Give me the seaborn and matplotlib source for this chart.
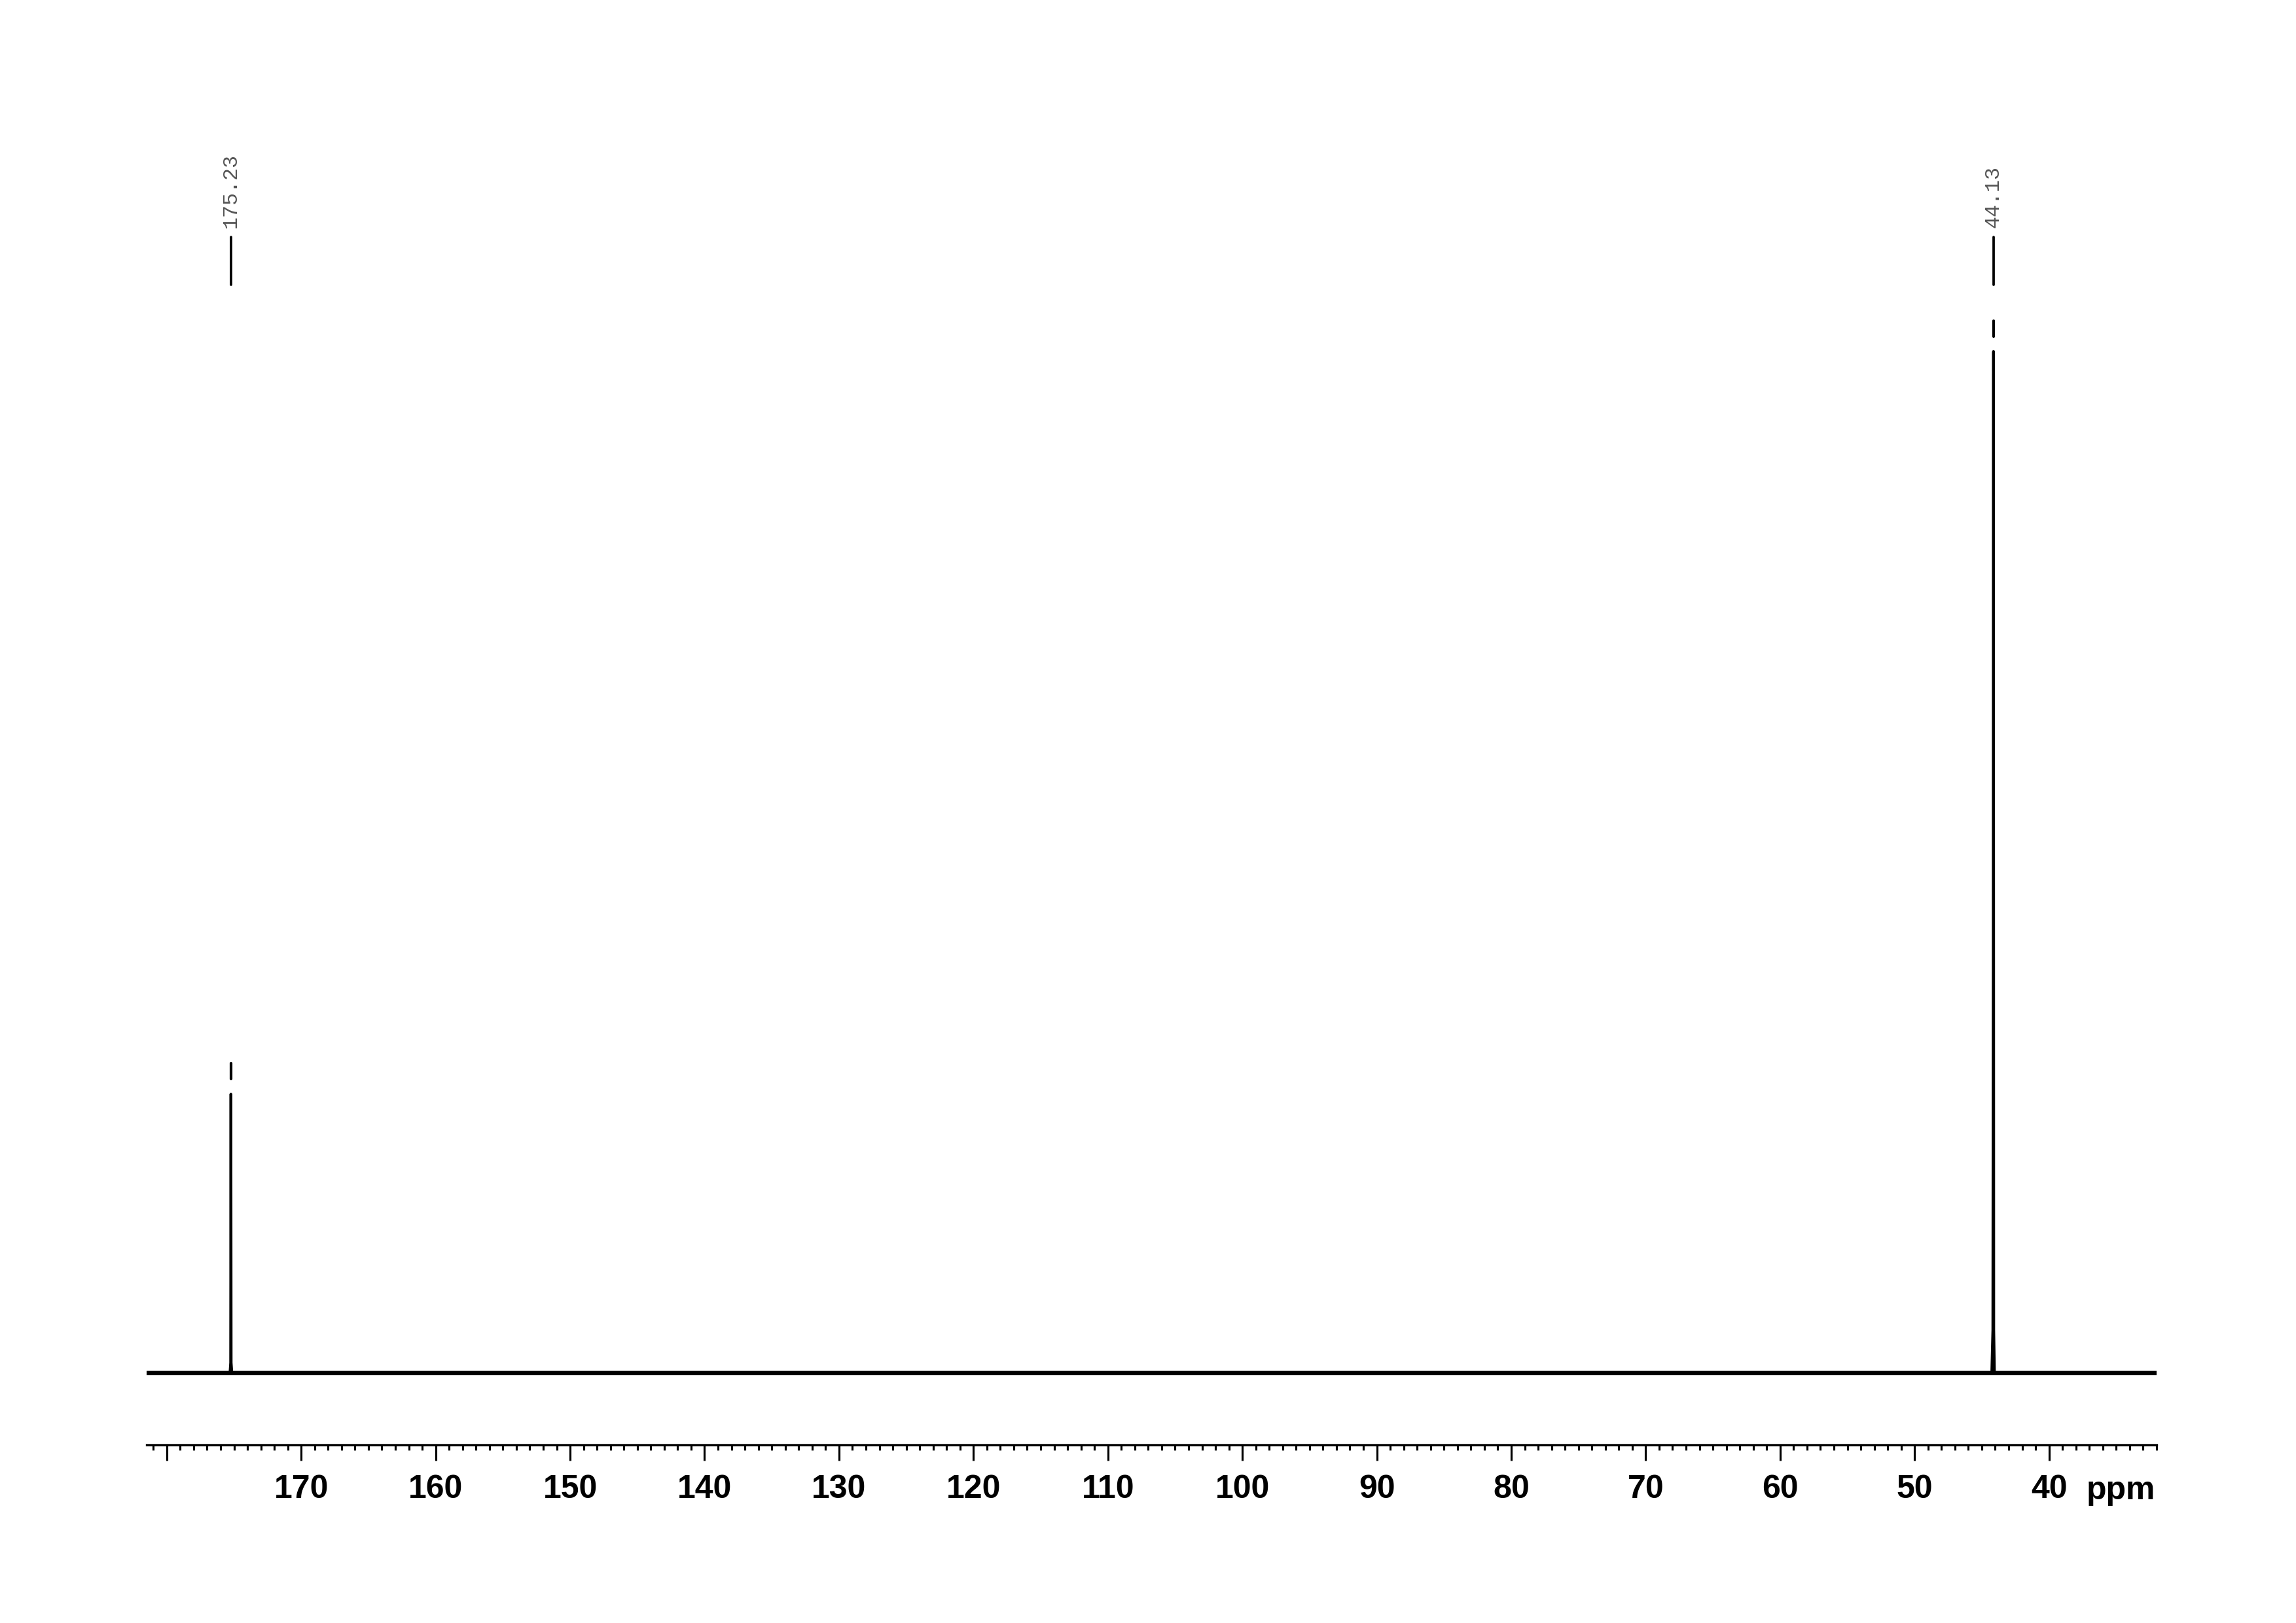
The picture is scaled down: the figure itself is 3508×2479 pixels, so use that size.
import matplotlib
matplotlib.use("Agg")
import matplotlib.pyplot as plt
import seaborn as sns
import pandas as pd
from matplotlib.ticker import MultipleLocator, FixedLocator, FixedFormatter

# ---- data ----
x_min_ppm = 32.0
x_max_ppm = 181.5
peak_ppm = [175.23, 44.13]
peak_labels = ["175.23", "44.13"]
peak_height = [27.3, 100.0]

# spectrum trace: baseline + peak tips (chemical shift, intensity)
spec_ppm = [181.5, 175.30, 175.25, 175.23, 175.21, 175.16,
            44.26, 44.18, 44.15, 44.13, 44.11, 44.06, 32.0]
spec_int = [0.0, 0.0, 1.0, 27.3, 1.0, 0.0,
            0.0, 4.2, 41.9, 100.0, 4.2, 0.0, 0.0]

major_ticks = [180, 170, 160, 150, 140, 130, 120, 110, 100, 90, 80, 70, 60, 50, 40]
tick_labels = ["", "170", "160", "150", "140", "130", "120", "110", "100",
               "90", "80", "70", "60", "50", "40"]

sns.set_style("white")
plt.rcParams["font.family"] = ["Liberation Sans", "DejaVu Sans"]
plt.rcParams["text.color"] = "black"

W, H = 3508, 2479
dpi = 300
fig = plt.figure(figsize=(W / dpi, H / dpi), dpi=dpi)
fig.patch.set_facecolor("white")

left = 224 / W
right = 3295 / W
bottom = (H - 2207) / H
top = (H - 100) / H
ax = fig.add_axes([left, bottom, right - left, top - bottom])
ax.set_facecolor("white")

df = pd.DataFrame({"ppm": spec_ppm, "intensity": spec_int})

# baseline noise band (flat, drawn thicker)
base = pd.DataFrame({"ppm": [x_max_ppm, x_min_ppm], "intensity": [0.0, 0.0]})
sns.lineplot(data=base, x="ppm", y="intensity", ax=ax, color="black",
             lw=1.55, sort=False, estimator=None)
sns.lineplot(data=df, x="ppm", y="intensity", ax=ax, color="black",
             lw=1.0, sort=False, estimator=None)

ax.set_xlim(x_max_ppm, x_min_ppm)
ax.set_ylim(-7.05, 128.0)

# peak markers: small dash above each peak, label line and rotated label
for p, lab, h in zip(peak_ppm, peak_labels, peak_height):
    ax.plot([p, p], [h + 1.45, h + 3.0], color="black", lw=1.0)
    ax.plot([p, p], [106.5, 111.2], color="black", lw=0.9)
    ax.text(p, 112.1, lab, rotation=90, ha="center", va="bottom",
            family=["Liberation Mono", "DejaVu Sans Mono"], fontsize=7.6,
            color="#555555")

for s in ["left", "top", "right"]:
    ax.spines[s].set_visible(False)
ax.spines["bottom"].set_linewidth(0.8)
ax.spines["bottom"].set_color("black")

ax.xaxis.set_major_locator(FixedLocator(major_ticks))
ax.xaxis.set_major_formatter(FixedFormatter(tick_labels))
ax.xaxis.set_minor_locator(MultipleLocator(1))
ax.tick_params(axis="x", which="major", direction="out", length=5.8, width=0.75,
               color="black", labelcolor="black", pad=5.0, labelsize=12,
               bottom=True)
ax.tick_params(axis="x", which="minor", direction="out", length=1.8, width=0.75,
               color="black", bottom=True)
for lbl in ax.get_xticklabels():
    lbl.set_fontweight("bold")
ax.set_yticks([])
ax.set_xlabel("")
ax.set_ylabel("")
ax.grid(False)

fig.text(3293 / W, (H - 2290) / H, "ppm", ha="right", va="baseline",
         fontsize=12, fontweight="bold", color="black")

fig.savefig("out.png", dpi=dpi, facecolor="white")
